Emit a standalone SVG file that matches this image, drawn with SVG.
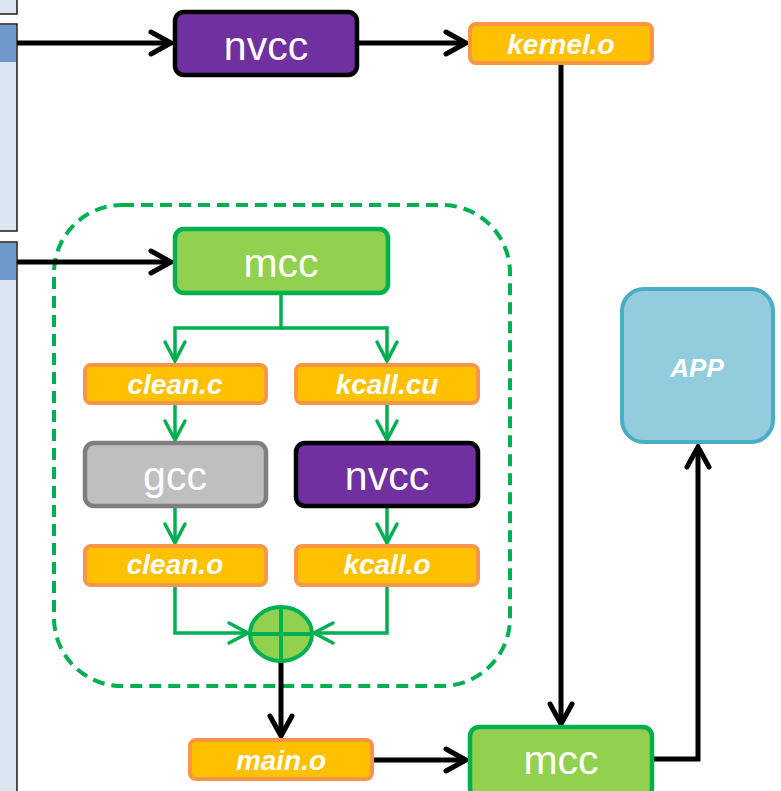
<svg xmlns="http://www.w3.org/2000/svg" width="781" height="791" viewBox="0 0 781 791">
<defs>
<style>
.panel{fill:#DCE6F2;stroke:#1a1a1a;stroke-width:1.5}
.strip{fill:#6F98CB}
.file rect{fill:#FFC000;stroke:#F79646;stroke-width:4}
.file text{font-family:"Liberation Sans",Arial,sans-serif;font-weight:bold;font-style:italic;font-size:28px;fill:#fff;text-anchor:middle}
.tool text{font-family:"Liberation Sans",Arial,sans-serif;font-size:41px;fill:#fff;text-anchor:middle}
.nv rect{fill:#7030A0;stroke:#000;stroke-width:4.5}
.mc rect{fill:#92D050;stroke:#00B050;stroke-width:4.5}
.gc rect{fill:#BFBFBF;stroke:#7F7F7F;stroke-width:4.5}
.blk{fill:none;stroke:#000;stroke-width:5;marker-end:url(#ab)}
.grn{fill:none;stroke:#00B050;stroke-width:3.5;marker-end:url(#ag)}
</style>
<marker id="ab" markerUnits="userSpaceOnUse" viewBox="-26 -16 30 32" markerWidth="30" markerHeight="32" refX="0" refY="0" orient="auto" overflow="visible">
<path d="M-20,-11 L0,0 L-20,11" fill="none" stroke="#000" stroke-width="5" stroke-linecap="round" stroke-linejoin="miter"/>
</marker>
<marker id="ag" markerUnits="userSpaceOnUse" viewBox="-22 -13 26 26" markerWidth="26" markerHeight="26" refX="0" refY="0" orient="auto" overflow="visible">
<path d="M-19,-10 L0,0 L-19,10" fill="none" stroke="#00B050" stroke-width="3.5" stroke-linecap="round"/>
</marker>
</defs>
<rect width="781" height="791" fill="#fff"/>
<g id="side-panels">
<rect class="panel" x="-5" y="-10" width="22" height="24"/>
<rect class="panel" x="-5" y="24" width="22" height="207"/>
<rect class="strip" x="0" y="25" width="16" height="37"/>
<rect class="panel" x="-5" y="242" width="22" height="560"/>
<rect class="strip" x="0" y="243" width="16" height="37"/>
</g>
<g id="group-box">
<rect x="54" y="205" width="456" height="481" rx="68" fill="none" stroke="#00B050" stroke-width="4" stroke-dasharray="12 7"/>
</g>
<g id="connectors">
<path class="blk" d="M17,43 H171"/>
<path class="blk" d="M359,43 H466"/>
<path class="blk" d="M17,262 H171"/>
<path class="blk" d="M561,65 V724"/>
<path class="blk" d="M281,662 V736"/>
<path class="blk" d="M374,760 H466"/>
<path class="blk" d="M654,759 H698 V447"/>
<path class="grn" d="M281,295 V328 H175 V361"/>
<path class="grn" d="M281,328 H387 V361"/>
<path class="grn" d="M175,405 V440"/>
<path class="grn" d="M387,405 V440"/>
<path class="grn" d="M175,508 V543"/>
<path class="grn" d="M387,508 V543"/>
<path class="grn" d="M175,587 V633 H248"/>
<path class="grn" d="M387,587 V633 H314"/>
</g>
<g id="nvcc-top" class="tool nv">
<rect x="175" y="12" width="182" height="63" rx="9"/>
<text x="266" y="60">nvcc</text>
</g>
<g id="kernel-o" class="file">
<rect x="470" y="24" width="182" height="39" rx="6"/>
<text x="561" y="54">kernel.o</text>
</g>
<g id="mcc-top" class="tool mc">
<rect x="175" y="229" width="213" height="64" rx="9"/>
<text x="281" y="277">mcc</text>
</g>
<g id="clean-c" class="file">
<rect x="85" y="365" width="181" height="38" rx="6"/>
<text x="175" y="394">clean.c</text>
</g>
<g id="kcall-cu" class="file">
<rect x="296" y="365" width="182" height="38" rx="6"/>
<text x="387" y="394">kcall.cu</text>
</g>
<g id="gcc" class="tool gc">
<rect x="85" y="443" width="181" height="63" rx="9"/>
<text x="175" y="490">gcc</text>
</g>
<g id="nvcc-mid" class="tool nv">
<rect x="296" y="443" width="182" height="63" rx="9"/>
<text x="387" y="490">nvcc</text>
</g>
<g id="clean-o" class="file">
<rect x="85" y="546" width="181" height="39" rx="6"/>
<text x="175" y="574">clean.o</text>
</g>
<g id="kcall-o" class="file">
<rect x="296" y="546" width="182" height="39" rx="6"/>
<text x="387" y="574">kcall.o</text>
</g>
<g id="combine">
<ellipse cx="281" cy="634" rx="31" ry="27" fill="#92D050" stroke="#00B050" stroke-width="4"/>
<path d="M281,607 V661 M250,634 H312" stroke="#00B050" stroke-width="4" fill="none"/>
</g>
<g id="main-o" class="file">
<rect x="190" y="740" width="182" height="39" rx="6"/>
<text x="281" y="770">main.o</text>
</g>
<g id="mcc-bottom" class="tool mc">
<rect x="470" y="727" width="182" height="70" rx="9"/>
<text x="561" y="774">mcc</text>
</g>
<g id="app">
<rect x="622" y="289" width="151" height="153" rx="22" fill="#93CDDD" stroke="#4BACC6" stroke-width="4"/>
<text x="697" y="377" font-family="'Liberation Sans',Arial,sans-serif" font-weight="bold" font-style="italic" font-size="26" fill="#fff" text-anchor="middle">APP</text>
</g>
</svg>
